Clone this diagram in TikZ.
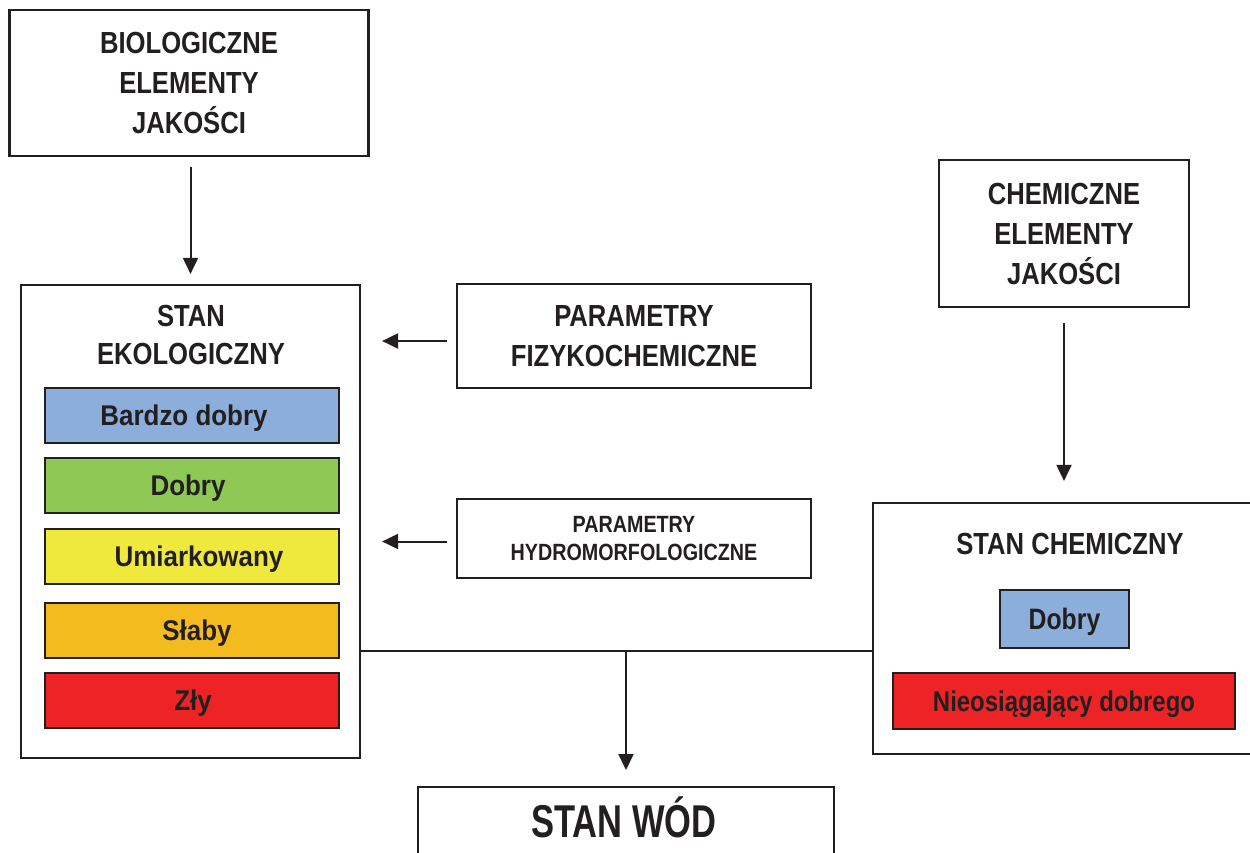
\documentclass[tikz,border=0pt]{standalone}
\usepackage{fontspec}
\setmainfont[FakeStretch=0.84]{Liberation Sans}
\newfontfamily\barfont[FakeStretch=0.91]{Liberation Sans}
\newfontfamily\bigfont[FakeStretch=0.75]{Liberation Sans}
\usetikzlibrary{arrows.meta}
\definecolor{ink}{HTML}{231F20}
\definecolor{cblue}{HTML}{8CAEDB}
\definecolor{cgreen}{HTML}{8EC955}
\definecolor{cyellow}{HTML}{EEE93C}
\definecolor{corange}{HTML}{F3BB1E}
\definecolor{cred}{HTML}{EE2325}
\begin{document}
\begin{tikzpicture}[x=1pt,y=-1pt,
  box/.style={draw=ink, line width=2.2pt, fill=white, inner sep=0pt, align=center, text=ink,
    font=\bfseries\fontsize{30.5}{40}\selectfont},
  txt/.style={inner sep=0pt, align=center, text=ink, font=\bfseries\fontsize{30.5}{38}\selectfont},
  bar/.style={draw=ink, line width=2pt, inner sep=0pt, text=ink, text depth=0pt,
    minimum width=294pt, minimum height=55pt, font=\barfont\bfseries\fontsize{28.5}{34}\selectfont},
  cbar/.style={draw=ink, line width=2pt, inner sep=0pt, text=ink, text depth=0pt,
    font=\bfseries\fontsize{29.5}{34}\selectfont},
  arr/.style={draw=ink, line width=2pt, -{Triangle[length=16pt,width=15pt]}},
  ln/.style={draw=ink, line width=2pt}]
\useasboundingbox (0,0) rectangle (1250,852);
\clip (0,0) rectangle (1250,852);
\fill[white] (0,0) rectangle (1250,852);

% boxes
\node[box, minimum width=359pt, minimum height=146pt] (bio) at (189,83) {BIOLOGICZNE\\ELEMENTY\\JAKOŚCI};
\node[box, minimum width=339pt, minimum height=473pt] (eco) at (190.5,521.5) {};
\node[txt] (ecot) at (191,335) {STAN\\EKOLOGICZNY};
\node[bar, fill=cblue]   (b1) at (192,415.5) {\hspace*{-16pt}Bardzo dobry};
\node[bar, fill=cgreen]  (b2) at (192,485.5) {\hspace*{-8pt}Dobry};
\node[bar, fill=cyellow] (b3) at (192,556.5) {\hspace*{14pt}Umiarkowany};
\node[bar, fill=corange] (b4) at (192,630)   {\hspace*{10pt}Słaby};
\node[bar, fill=cred]    (b5) at (192,700.5) {\hspace*{2pt}Zły};

\node[box, minimum width=354pt, minimum height=104pt] (fiz) at (634,336) {PARAMETRY\\FIZYKOCHEMICZNE};
\node[box, minimum width=354pt, minimum height=79pt, font=\bfseries\fontsize{23.5}{28}\selectfont] (hyd) at (634,538.5) {PARAMETRY\\HYDROMORFOLOGICZNE};

\node[box, minimum width=250pt, minimum height=147pt] (chem) at (1064,233.5) {CHEMICZNE\\ELEMENTY\\JAKOŚCI};
\node[box, minimum width=420pt, minimum height=251pt] (sch) at (1083,628.5) {};
\node[txt] (scht) at (1070,544) {STAN CHEMICZNY};
\node[cbar, fill=cblue, minimum width=129pt, minimum height=58pt] (c1) at (1064.5,619) {Dobry};
\node[cbar, fill=cred, minimum width=342pt, minimum height=56pt, font=\bfseries\fontsize{28.5}{34}\selectfont] (c2) at (1064,701) {Nieosiągający dobrego};

\node[box, minimum width=416pt, minimum height=120pt, anchor=north] (wod) at (626,786) {};
\node[txt, font=\bigfont\bfseries\fontsize{46}{50}\selectfont, anchor=base] (wodt) at (624,837) {STAN WÓD};

% connectors
\draw[arr] ([yshift=-10pt]bio.south -| eco.north) -- ([yshift=10pt]eco.north);
\draw[arr] ([xshift=-9pt,yshift=-5pt]fiz.west) -- ([xshift=21pt,yshift=-5pt]fiz.west -| eco.east);
\draw[arr] ([xshift=-9pt,yshift=-3pt]hyd.west) -- ([xshift=21pt,yshift=-3pt]hyd.west -| eco.east);
\draw[arr] ([yshift=-15pt]chem.south) -- ([yshift=21pt]chem.south |- sch.north);
\coordinate (j) at (626,651);
\draw[ln] (j -| eco.east) -- (j -| sch.west);
\draw[arr] (j) -- ([yshift=16pt]wod.north);
\end{tikzpicture}
\end{document}
